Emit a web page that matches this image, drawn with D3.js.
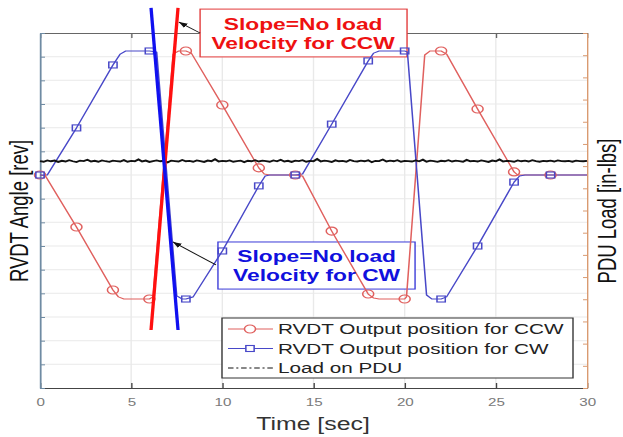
<!DOCTYPE html>
<html>
<head>
<meta charset="utf-8">
<script src="https://cdn.jsdelivr.net/npm/d3@7"></script>
<style>
  body { margin: 0; background: #fff; }
  svg { display: block; }
</style>
</head>
<body>
<svg id="chart"></svg>
<script>
// CCW output position (red, circles) - time [sec] / angle [rev]
const ccwTime  = [0, 0.3, 2, 4, 4.3, 4.6, 6, 6.2, 7.3, 7.6, 8, 8.3, 10, 12, 12.3, 12.6, 14, 14.4, 16, 18, 18.3, 18.6, 20, 20.1, 21.1, 21.4, 22, 22.3, 24, 26, 26.2, 26.5, 28, 30];
const ccwAngle = [0, -0.04, -2.20, -4.86, -5.15, -5.24, -5.24, -5.15, 5.11, 5.24, 5.24, 5.15, 2.96, 0.30, 0.04, 0, 0, -0.04, -2.37, -5.03, -5.20, -5.24, -5.24, -5.15, 5.07, 5.24, 5.24, 5.11, 2.79, 0.13, 0, 0, 0, 0];

// CW output position (blue, squares)
const cwTime  = [0, 0.4, 2, 4, 4.4, 4.7, 6, 6.4, 7.5, 7.8, 8, 8.4, 10, 12, 12.35, 12.6, 14, 14.4, 16, 18, 18.3, 18.6, 20, 20.15, 21.2, 21.5, 22, 22.3, 24, 26, 26.3, 26.6, 28, 30];
const cwAngle = [0, 0, 1.99, 4.65, 5.11, 5.24, 5.24, 5.20, -5.11, -5.24, -5.24, -5.15, -3.21, -0.46, -0.04, 0, 0, 0.04, 2.15, 4.82, 5.15, 5.24, 5.24, 5.20, -5.07, -5.24, -5.24, -5.15, -3.00, -0.30, -0.04, 0, 0, 0];

const markerTimes = [0, 2, 4, 6, 8, 10, 12, 14, 16, 18, 20, 22, 24, 26, 28];

// load on PDU [in-lbs], one sample every 0.2 s
const loadStep = 0.2;
const loadValues = [0.23,0.20,0.26,0.22,0.25,0.19,0.24,0.21,0.27,0.22,0.18,0.25,0.23,0.29,0.21,0.24,0.20,0.26,0.22,0.19,
  0.25,0.23,0.21,0.27,0.20,0.24,0.22,0.30,0.21,0.25,0.19,0.23,0.26,0.22,0.24,0.17,0.25,0.23,0.21,0.28,
  0.22,0.24,0.20,0.26,0.23,0.19,0.25,0.22,0.31,0.21,0.24,0.22,0.26,0.20,0.23,0.25,0.18,0.24,0.22,0.27,
  0.21,0.25,0.23,0.20,0.26,0.22,0.29,0.21,0.24,0.19,0.25,0.23,0.27,0.20,0.24,0.22,0.32,0.21,0.25,0.23,
  0.19,0.26,0.22,0.24,0.20,0.28,0.23,0.21,0.25,0.22,0.26,0.18,0.24,0.23,0.30,0.21,0.25,0.22,0.27,0.20,
  0.24,0.23,0.21,0.26,0.22,0.29,0.20,0.25,0.23,0.19,0.24,0.22,0.27,0.21,0.25,0.23,0.20,0.28,0.22,0.24,
  0.21,0.26,0.23,0.19,0.25,0.22,0.30,0.21,0.24,0.23,0.20,0.26,0.22,0.25,0.21,0.27,0.23,0.20,0.24,0.22,
  0.25,0.21,0.26,0.23,0.22,0.24,0.20,0.25,0.23,0.22,0.24];

const xTicks = [0, 5, 10, 15, 20, 25, 30];

// slope annotations (time, angle)
const ccwSlopeTime = [6.09, 7.57], ccwSlopeAngle = [-6.55, 7.06];
const cwSlopeTime  = [6.09, 7.57], cwSlopeAngle  = [7.06, -6.55];
const ccwNote = ["Slope=No load", "Velocity for CCW"];
const cwNote  = ["Slope=No load", "Velocity for CW"];

const legendLabels = ["RVDT Output position for CCW", "RVDT Output position for CW", "Load on PDU"];

// the original figure is stretched horizontally
const K = 1.38;
const W = 623 / K, H = 437;

const svg = d3.select("#chart")
  .attr("width", 623).attr("height", H)
  .attr("viewBox", `0 0 ${W} ${H}`)
  .attr("preserveAspectRatio", "none")
  .style("font-family", "'Liberation Sans', Arial, sans-serif");

const x = d3.scaleLinear().domain([0, 30]).range([40 / K, 587 / K]);
const yL = d3.scaleLinear().domain([-9, 6]).range([388, 33]);
const yR = d3.scaleLinear().domain([-10, 6]).range([388, 33]);

const defs = svg.append("defs");
defs.append("marker")
  .attr("id", "arrow")
  .attr("viewBox", "0 0 10 8")
  .attr("refX", 10).attr("refY", 4)
  .attr("markerWidth", 7).attr("markerHeight", 6)
  .attr("orient", "auto")
  .append("path").attr("d", "M0,0L10,4L0,8Z").attr("fill", "#111");

// grid
const grid = svg.append("g");
grid.selectAll(".vg").data(xTicks.slice(1, -1)).enter().append("line")
  .attr("x1", d => x(d)).attr("x2", d => x(d))
  .attr("y1", yL.range()[0]).attr("y2", yL.range()[1])
  .attr("stroke", "#e9e9e9").attr("stroke-width", 1);
grid.selectAll(".hg").data(yL.ticks(15).slice(1, -1)).enter().append("line")
  .attr("x1", x(0)).attr("x2", x(30))
  .attr("y1", d => yL(d)).attr("y2", d => yL(d))
  .attr("stroke", "#e9e9e9").attr("stroke-width", 1);

// annotation boxes (white, behind curves)
function noteBox(t0, t1, a0, a1, color) {
  svg.append("rect")
    .attr("x", x(t0)).attr("y", yL(a0))
    .attr("width", x(t1) - x(t0)).attr("height", yL(a1) - yL(a0))
    .attr("fill", "#fff").attr("stroke", color).attr("stroke-width", 1);
}

// axes
const bottomAxis = svg.append("g")
  .attr("transform", `translate(0,${yL.range()[0]})`)
  .call(d3.axisBottom(x).tickValues(xTicks).tickSizeInner(-5).tickSizeOuter(0).tickPadding(10));
bottomAxis.select(".domain").attr("stroke", "#444");
bottomAxis.selectAll(".tick line").attr("stroke", "#444");
bottomAxis.selectAll("text").attr("fill", "#7a7a7a").attr("font-size", 11);

const topAxis = svg.append("g")
  .attr("transform", `translate(0,${yL.range()[1]})`)
  .call(d3.axisTop(x).tickValues(xTicks).tickSizeInner(-5).tickSizeOuter(0).tickFormat(""));
topAxis.selectAll(".domain, .tick line").attr("stroke", "#666");

const leftAxis = svg.append("g")
  .attr("transform", `translate(${x(0)},0)`)
  .call(d3.axisLeft(yL).ticks(15).tickSizeInner(-5 / K).tickSizeOuter(0).tickFormat(""));
leftAxis.selectAll(".domain, .tick line").attr("stroke", "#6f8ba3");
leftAxis.select(".domain").attr("stroke-width", 1.3);

const rightAxis = svg.append("g")
  .attr("transform", `translate(${x(30)},0)`)
  .call(d3.axisRight(yR).ticks(16).tickSizeInner(-4 / K).tickSizeOuter(0).tickFormat(""));
rightAxis.selectAll(".domain, .tick line").attr("stroke", "#d99a70");

noteBox(8.78, 20.13, 7.01, 4.99, "#e23a3a");
noteBox(9.76, 20.57, -2.83, -4.82, "#3a3ad8");

// curves
const ccwData = ccwTime.map((t, i) => ({ t, v: ccwAngle[i] }));
const cwData = cwTime.map((t, i) => ({ t, v: cwAngle[i] }));
const loadData = loadValues.map((v, i) => ({ t: i * loadStep, v }));

const lineL = d3.line().x(d => x(d.t)).y(d => yL(d.v));
const lineR = d3.line().x(d => x(d.t)).y(d => yR(d.v));

const RED = "#e0605e", BLUE = "#4848c8";

svg.append("path").datum(ccwData).attr("d", lineL)
  .attr("fill", "none").attr("stroke", RED).attr("stroke-width", 1.1)
  .attr("stroke-linejoin", "round");
svg.append("path").datum(cwData).attr("d", lineL)
  .attr("fill", "none").attr("stroke", BLUE).attr("stroke-width", 1.1)
  .attr("stroke-linejoin", "round");

svg.selectAll(".ccw-mark")
  .data(ccwData.filter(d => markerTimes.includes(d.t)))
  .enter().append("circle")
  .attr("cx", d => x(d.t)).attr("cy", d => yL(d.v)).attr("r", 4)
  .attr("fill", "none").attr("stroke", RED).attr("stroke-width", 1.1);
svg.selectAll(".cw-mark")
  .data(cwData.filter(d => markerTimes.includes(d.t)))
  .enter().append("rect")
  .attr("x", d => x(d.t) - 3).attr("y", d => yL(d.v) - 3)
  .attr("width", 6).attr("height", 6)
  .attr("fill", "none").attr("stroke", BLUE).attr("stroke-width", 1.1);

svg.append("path").datum(loadData).attr("d", lineR)
  .attr("fill", "none").attr("stroke", "#111").attr("stroke-width", 1.8);

// slope lines
svg.append("line")
  .attr("x1", x(ccwSlopeTime[0])).attr("y1", yL(ccwSlopeAngle[0]))
  .attr("x2", x(ccwSlopeTime[1])).attr("y2", yL(ccwSlopeAngle[1]))
  .attr("stroke", "#ff1010").attr("stroke-width", 2.4);
svg.append("line")
  .attr("x1", x(cwSlopeTime[0])).attr("y1", yL(cwSlopeAngle[0]))
  .attr("x2", x(cwSlopeTime[1])).attr("y2", yL(cwSlopeAngle[1]))
  .attr("stroke", "#1010f0").attr("stroke-width", 2.4);

// arrows
function arrow(t0, a0, t1, a1) {
  svg.append("line")
    .attr("x1", x(t0)).attr("y1", yL(a0)).attr("x2", x(t1)).attr("y2", yL(a1))
    .attr("stroke", "#111").attr("stroke-width", 0.9)
    .attr("marker-end", "url(#arrow)");
}
arrow(8.78, 6.0, 7.62, 6.46);
arrow(9.65, -3.80, 7.29, -2.83);

// note text
function noteText(lines, tc, a0, color) {
  lines.forEach((s, i) => {
    svg.append("text")
      .attr("x", x(tc)).attr("y", yL(a0) + i * 19)
      .attr("text-anchor", "middle")
      .attr("font-size", 16.5).attr("font-weight", "bold")
      .attr("fill", color).text(s);
  });
}
noteText(ccwNote, 14.43, (175 - 30) / (355 / 15), "#ee1111");
noteText(cwNote, 15.17, (175 - 262) / (355 / 15), "#1010dd");

// axis labels
svg.append("text")
  .attr("transform", `translate(${28 / K},211) rotate(-90)`)
  .attr("text-anchor", "middle").attr("font-size", 18.5).attr("fill", "#111")
  .text("RVDT Angle [rev]");
svg.append("text")
  .attr("transform", `translate(${616 / K},211) rotate(-90)`)
  .attr("text-anchor", "middle").attr("font-size", 18.5).attr("fill", "#111")
  .text("PDU Load [in-lbs]");
svg.append("text")
  .attr("x", 313 / K).attr("y", 430)
  .attr("text-anchor", "middle").attr("font-size", 18).attr("fill", "#333")
  .text("Time [sec]");

// legend
const legend = svg.append("g");
legend.append("rect")
  .attr("x", 222 / K).attr("y", 318)
  .attr("width", (573 - 222) / K).attr("height", 60)
  .attr("fill", "#fff").attr("stroke", "#333").attr("stroke-width", 1);
const rowY = [329, 348.5, 368];
const rowColor = [RED, BLUE, "#111"];
legendLabels.forEach((lab, i) => {
  const ln = legend.append("line")
    .attr("x1", 228 / K).attr("x2", 273 / K)
    .attr("y1", rowY[i]).attr("y2", rowY[i])
    .attr("stroke", rowColor[i]).attr("stroke-width", 1.1);
  if (i === 2) ln.attr("stroke-dasharray", "4,2,1.5,2");
  if (i === 0) {
    legend.append("circle").attr("cx", 250 / K).attr("cy", rowY[i]).attr("r", 4)
      .attr("fill", "#fff").attr("stroke", RED).attr("stroke-width", 1.1);
  } else if (i === 1) {
    legend.append("rect").attr("x", 250 / K - 3).attr("y", rowY[i] - 3)
      .attr("width", 6).attr("height", 6)
      .attr("fill", "#fff").attr("stroke", BLUE).attr("stroke-width", 1.1);
  }
  legend.append("text")
    .attr("x", 278 / K).attr("y", rowY[i] + 5.5)
    .attr("font-size", 15).attr("fill", "#222")
    .text(lab);
});
</script>
</body>
</html>
